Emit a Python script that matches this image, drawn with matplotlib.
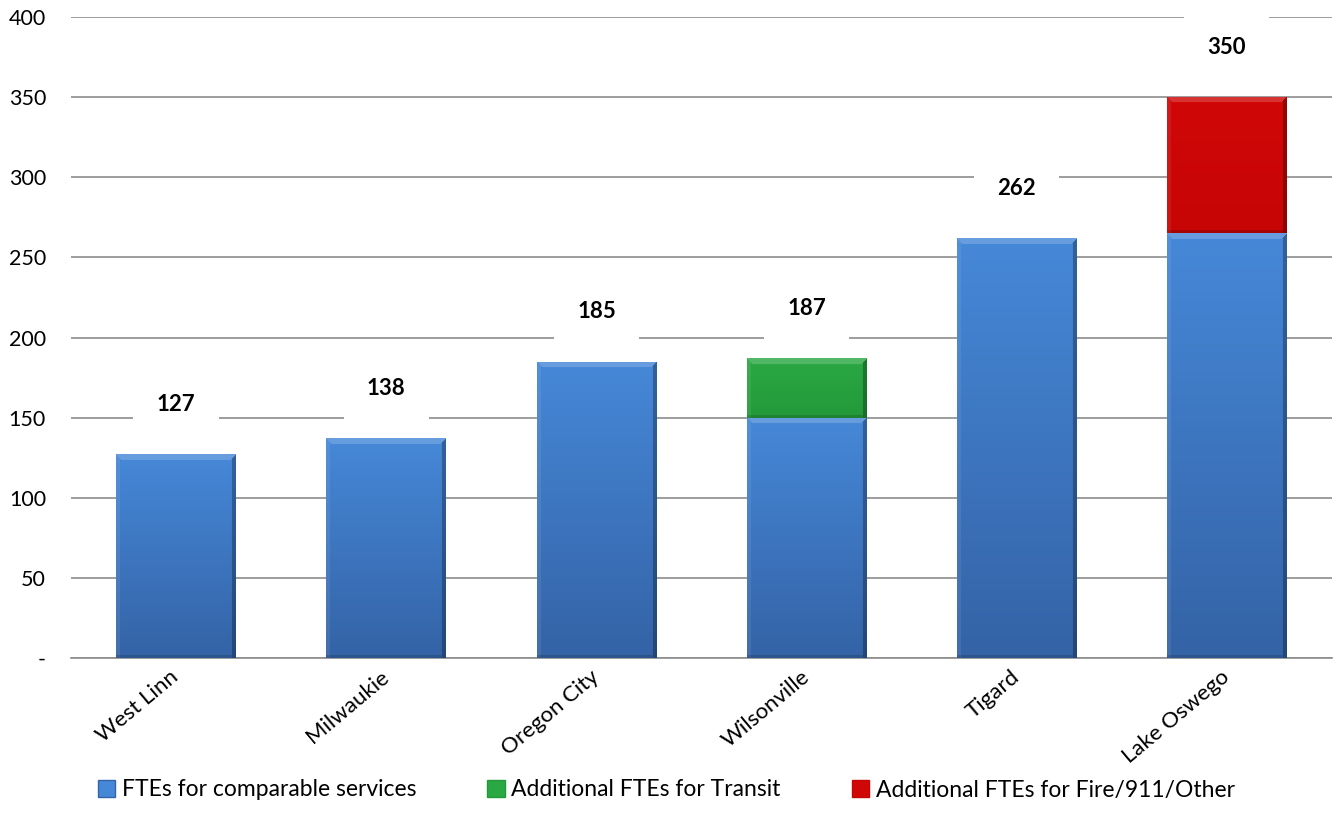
import numpy as np
import matplotlib
matplotlib.use('Agg')
import matplotlib.pyplot as plt
from matplotlib.patches import Rectangle, Patch
from matplotlib.colors import to_rgb

plt.rcParams['font.family'] = ['Lato', 'DejaVu Sans']

# data
cities = ['West Linn', 'Milwaukie', 'Oregon City', 'Wilsonville', 'Tigard', 'Lake Oswego']
comparable = [127, 137, 185, 150, 262, 265]
transit = [0, 0, 0, 37, 0, 0]
fire_other = [0, 0, 0, 0, 0, 85]
total_labels = ['127', '138', '185', '187', '262', '350']
series_names = ['FTEs for comparable services', 'Additional FTEs for Transit',
                'Additional FTEs for Fire/911/Other']

# (top colour, bottom colour) for each series
colours = [('#4688d8', '#3463a6'), ('#2aa843', '#239a3a'), ('#d00707', '#c70505')]

W, H = 1338, 832
fig = plt.figure(figsize=(W / 100, H / 100), dpi=100)
ax = fig.add_axes([71 / W, 1 - 658 / H, (1332 - 71) / W, (658 - 17) / H])
ax.set_xlim(-0.5, len(cities) - 0.5)
ax.set_ylim(0, 400)

bar_w = 0.57
px_x = (1332 - 71) / len(cities)   # pixels per x unit
px_y = (658 - 17) / 400.0          # pixels per y unit


def bevel_bar(x, bottom, height, top_c, bot_c):
    if height <= 0:
        return
    nx = max(int(bar_w * px_x), 2)
    ny = max(int(height * px_y), 2)
    t = np.linspace(0, 1, ny)[:, None, None]  # 0 top -> 1 bottom
    c0 = np.array(to_rgb(top_c))
    c1 = np.array(to_rgb(bot_c))
    img = (c0 * (1 - t) + c1 * t) * np.ones((ny, nx, 3))
    yy, xx = np.mgrid[0:ny, 0:nx]
    b = 6
    # top bevel lighter, bottom/right darker, left slightly lighter
    top = (yy < b) & (xx >= yy) & (xx < nx - yy)
    img[top] = img[top] * 0.82 + 0.18
    left = (xx < 4) & ~top
    img[left] = img[left] * 0.93 + 0.07
    right = (xx >= nx - 4) & ~top
    img[right] = img[right] * 0.72
    bot = (yy >= ny - 3) & ~right
    img[bot] = img[bot] * 0.85
    rect = Rectangle((x - bar_w / 2, bottom), bar_w, height, facecolor='none',
                     edgecolor='none', zorder=3)
    ax.add_patch(rect)
    im = ax.imshow(img, extent=(x - bar_w / 2, x + bar_w / 2, bottom, bottom + height),
                   aspect='auto', interpolation='bilinear', zorder=3)
    im.set_clip_path(rect)


xs = np.arange(len(cities))
bottoms = np.zeros(len(cities))
for vals, (c_top, c_bot) in zip([comparable, transit, fire_other], colours):
    for i in range(len(cities)):
        bevel_bar(xs[i], bottoms[i], vals[i], c_top, c_bot)
    bottoms = bottoms + np.array(vals)
ax.set_aspect('auto')
ax.set_xlim(-0.5, len(cities) - 0.5)
ax.set_ylim(0, 400)

# total labels
for i in range(len(cities)):
    ax.text(xs[i], bottoms[i] + 31, total_labels[i], ha='center', va='center',
            fontsize=16, fontweight='bold', zorder=4,
            bbox=dict(boxstyle='square,pad=1.05', facecolor='white', edgecolor='none'))

# grid and axes
ax.set_yticks(np.arange(0, 401, 50))
ax.set_yticklabels(['-' if v == 0 else str(v) for v in range(0, 401, 50)], fontsize=15.5)
ax.yaxis.grid(True, color='#8c8c8c', linewidth=1.2, zorder=0)
ax.set_axisbelow(True)
for s in ['top', 'right', 'left']:
    ax.spines[s].set_visible(False)
ax.spines['bottom'].set_color('#8c8c8c')
ax.spines['bottom'].set_linewidth(1.2)
ax.tick_params(axis='y', length=0, pad=18)
ax.tick_params(axis='x', length=0, pad=12)
ax.set_xticks(xs)
ax.set_xticklabels(cities, rotation=40, ha='right', va='center', rotation_mode='anchor',
                   fontsize=16)

# legend
handles = [Patch(facecolor=c[0], edgecolor=c[1]) for c in colours]
fig.legend(handles, series_names, loc='center', bbox_to_anchor=(0.498, 1 - 790 / H),
           ncol=3, frameon=False, fontsize=16.5, handlelength=0.75, handleheight=0.75,
           handletextpad=0.3, columnspacing=3.1)

fig.savefig('out.png', dpi=100)
